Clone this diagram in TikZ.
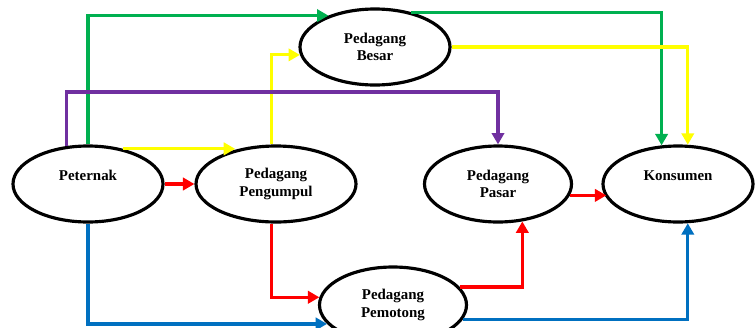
\documentclass[tikz,border=0pt]{standalone}
\usepackage{fontspec}
\setmainfont{Liberation Serif}
\usetikzlibrary{shapes.geometric,arrows.meta}
\definecolor{grn}{RGB}{0,176,80}
\definecolor{ylw}{RGB}{255,255,0}
\definecolor{prp}{RGB}{112,48,160}
\definecolor{rd}{RGB}{255,0,0}
\definecolor{blu}{RGB}{0,112,192}

\begin{document}
\begin{tikzpicture}[
  pelaku/.style={draw, ellipse, line width=1.8pt, minimum width=3cm, minimum height=1.52cm,
    inner sep=0pt, align=center, font=\bfseries\fontsize{8.5}{9.8}\selectfont},
  alur/.style={line width=1.8pt, -{Triangle[length=6.5pt,width=7pt]}}
]
  \clip (0,0) rectangle (15.1,6.54);
  \fill[white] (0,0) rectangle (15.1,6.54);

  % pelaku pemasaran
  \node[pelaku] (peternak) at (1.76,2.86) {Peternak\\~};
  \node[pelaku, minimum width=3.2cm] (pengumpul) at (5.52,2.86) {Pedagang\\Pengumpul};
  \node[pelaku] (besar) at (7.5,5.6) {Pedagang\\Besar};
  \node[pelaku, minimum width=2.94cm] (pasar) at (9.96,2.86) {Pedagang\\Pasar};
  \node[pelaku] (konsumen) at (13.56,2.86) {Konsumen\\~};
  \node[pelaku, minimum width=2.94cm] (pemotong) at (7.86,0.44) {Pedagang\\Pemotong};

  % saluran hijau
  \draw[alur, grn] (peternak.north) |- (besar.146);
  \draw[alur, grn] (besar.44) -| (konsumen.113);
  % saluran kuning
  \draw[alur, ylw] (peternak.45) -- (pengumpul.140 |- peternak.45);
  \draw[alur, ylw] (pengumpul.97) |- (besar.186);
  \draw[alur, ylw] (besar.east) -| (konsumen.76);
  % saluran ungu
  \draw[alur, prp] (peternak.120) -- ++(0,1.08) -| (pasar.north);
  % saluran merah
  \draw[alur, rd] (peternak) -- (pengumpul);
  \draw[alur, rd] (pengumpul.263) |- (pemotong.174);
  \draw[alur, rd] (pemotong.15) -| (pasar.303);
  \draw[alur, rd] (pasar.351) -- (konsumen.191 |- pasar.351);
  % saluran biru
  \draw[alur, blu] (peternak.south) |- (pemotong.196);
  \draw[alur, blu] (pemotong.348) -| (konsumen.284);
\end{tikzpicture}
\end{document}
